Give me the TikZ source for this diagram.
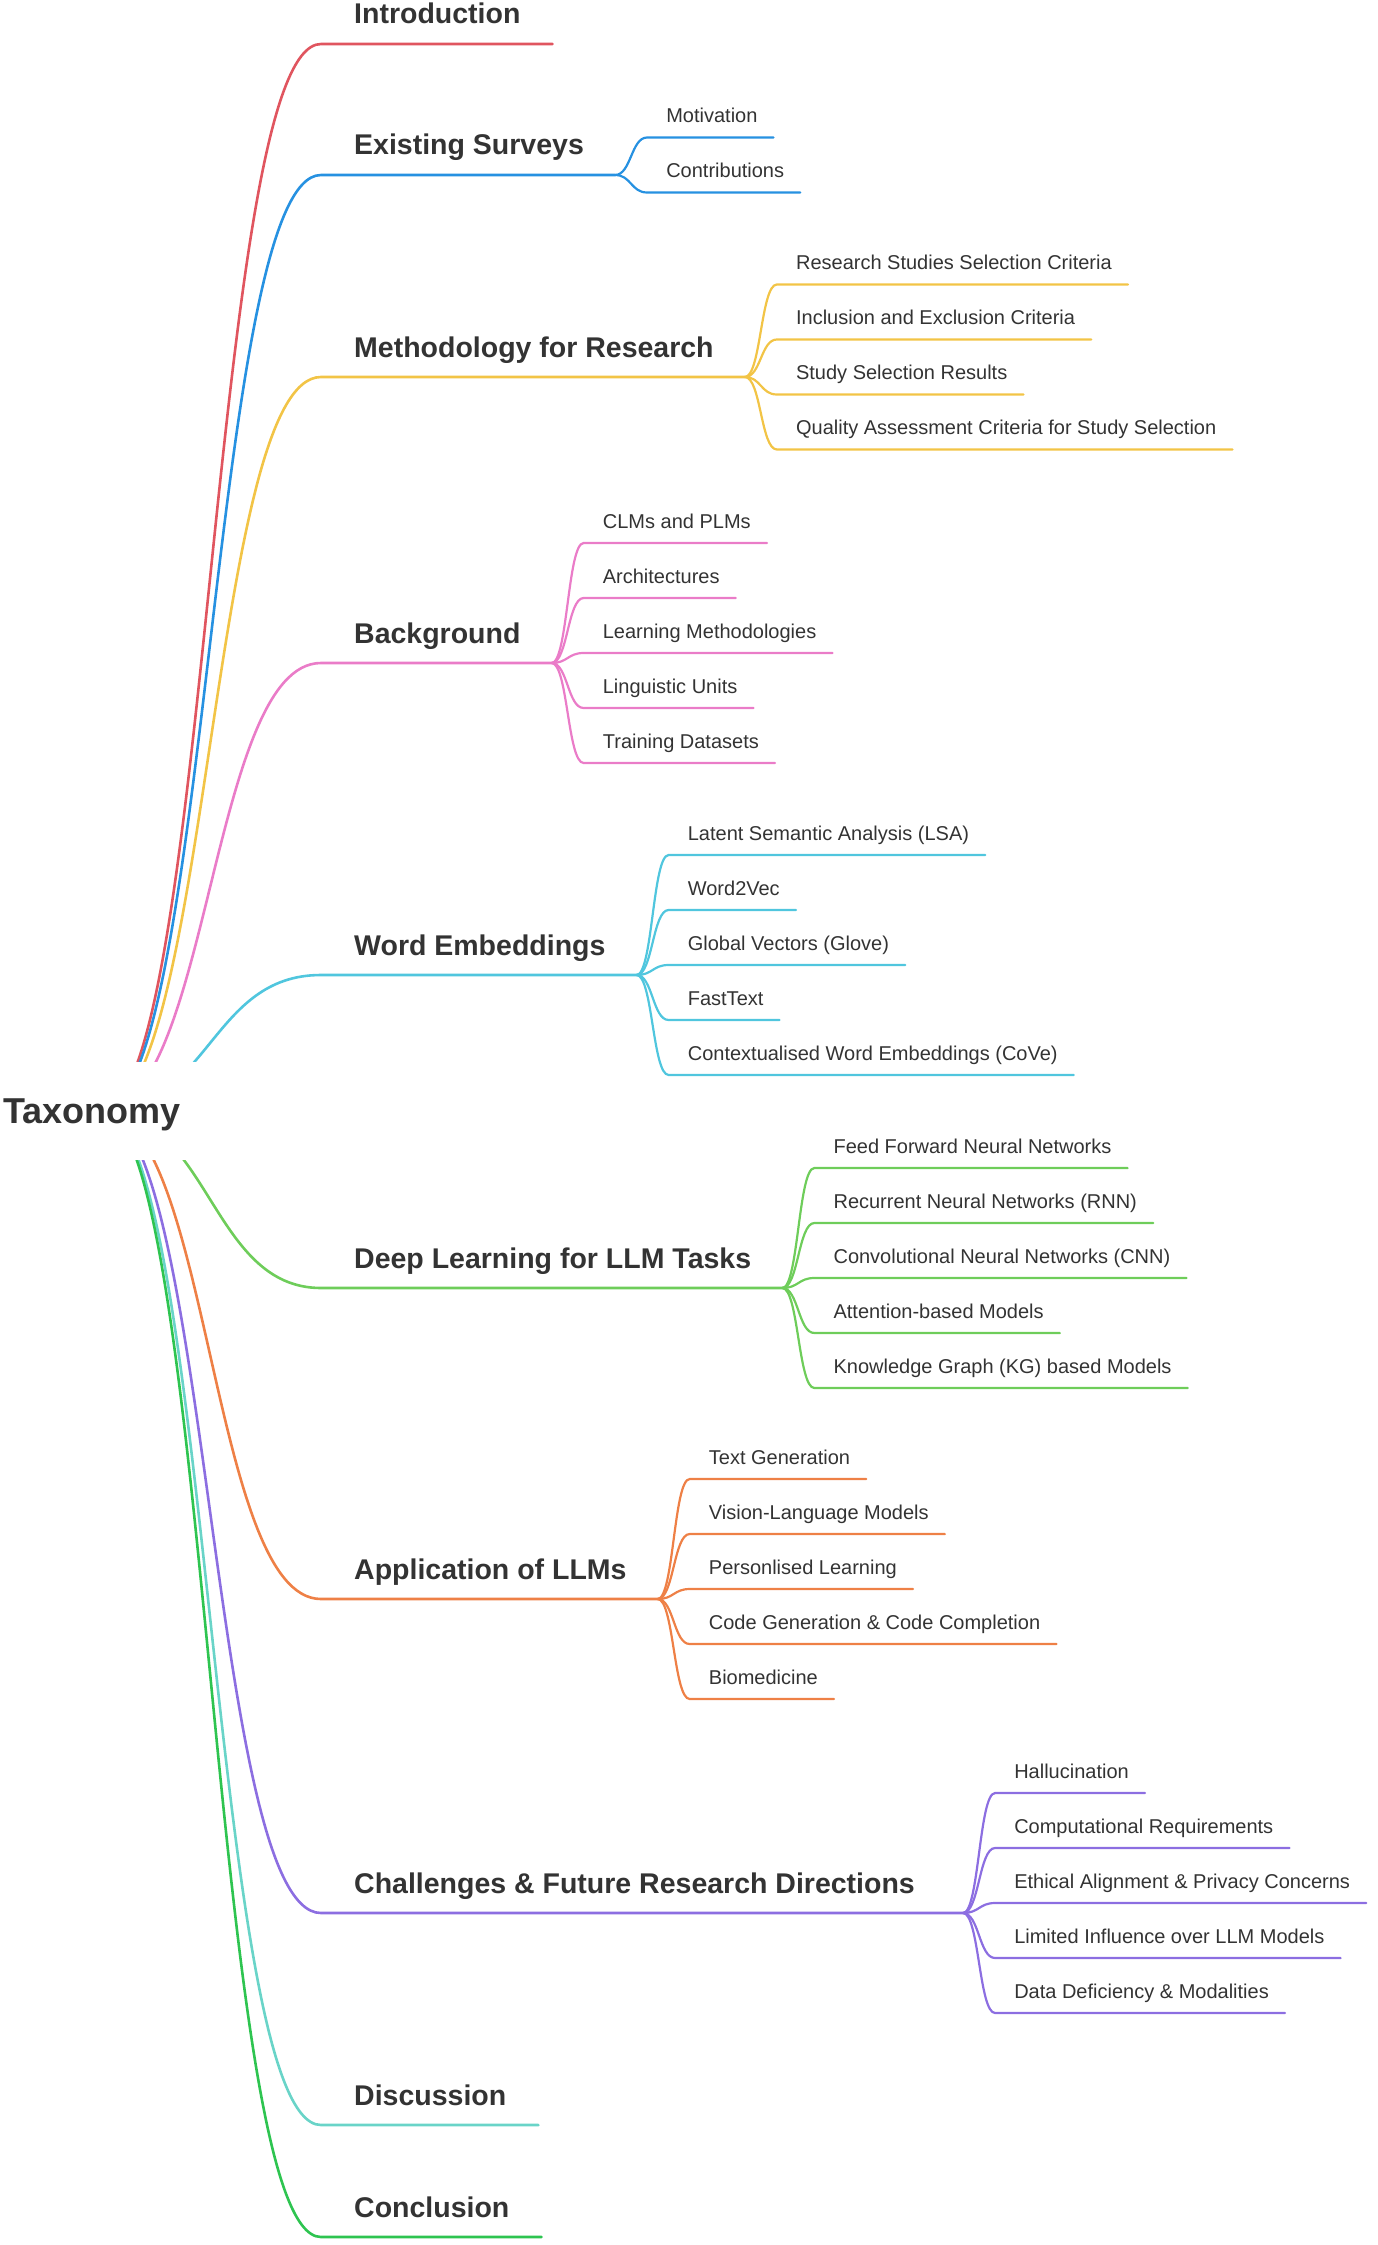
\documentclass[tikz,border=0pt]{standalone}
\usepackage{fontspec}
\setmainfont{Liberation Sans}
\usetikzlibrary{calc}

\definecolor{ink}{HTML}{333333}
\definecolor{cIntro}{HTML}{E0555F}
\definecolor{cSurv}{HTML}{2691E1}
\definecolor{cMeth}{HTML}{F2C446}
\definecolor{cBack}{HTML}{EA7CC8}
\definecolor{cWord}{HTML}{50C6DE}
\definecolor{cDeep}{HTML}{6ECD5A}
\definecolor{cAppl}{HTML}{EE8046}
\definecolor{cChal}{HTML}{8C6EE1}
\definecolor{cDisc}{HTML}{69D4C8}
\definecolor{cConc}{HTML}{2EC450}

\begin{document}
\begin{tikzpicture}[
    x=1pt, y=-1pt,
    taxo/.style={anchor=west, fill=white, inner xsep=3pt, inner ysep=0pt, text width=192pt, align=left, minimum height=98pt, text depth=0pt, text=ink, font=\bfseries\fontsize{36}{40}\selectfont},
    topic/.style={anchor=base west, inner sep=0pt, text=ink, font=\bfseries\fontsize{28.5}{34}\selectfont},
    leaf/.style={anchor=base west, inner sep=0pt, text=ink, font=\fontsize{20}{24}\selectfont},
    link/.style={line width=2.6pt, line cap=round},
    twig/.style={line width=2.2pt, line cap=round}
]
    \useasboundingbox (0,0) rectangle (1378,2245);
    \coordinate (hub) at (100,1111);

    % Introduction
    \node[topic] (intro) at (354,24) {Introduction};
    \coordinate (intro-in) at (321,44);
    \coordinate (intro-out) at ($(intro.base east)+(32,20)$);
    \draw[link, cIntro] (hub) .. controls (210,1111) and (210,44) .. (intro-in) -- (intro-out);

    % Existing Surveys
    \node[topic] (surv) at (354,155) {Existing Surveys};
    \coordinate (surv-in) at (321,175);
    \coordinate (surv-out) at ($(surv.base east)+(31,20)$);
    \draw[link, cSurv] (hub) .. controls (210,1111) and (210,175) .. (surv-in) -- (surv-out);
    \foreach \lab [count=\i] in {Motivation, Contributions} {
        \node[leaf] (surv-\i) at ($(surv-out)+(51,{(\i-1.5)*55-25})$) {\lab};
        \coordinate (surv-\i-in) at ($(surv-out)+(32,{(\i-1.5)*55-10})$);
        \coordinate (surv-\i-end) at ($(surv-\i.base east)+(16,15)$);
        \draw[twig, cSurv] (surv-out) .. controls +(16,0) and +(-16,0) .. (surv-\i-in) -- (surv-\i-end);
    }

    % Methodology for Research
    \node[topic] (meth) at (354,357) {Methodology for Research};
    \coordinate (meth-in) at (321,377);
    \coordinate (meth-out) at ($(meth.base east)+(31,20)$);
    \draw[link, cMeth] (hub) .. controls (210,1111) and (210,377) .. (meth-in) -- (meth-out);
    \foreach \lab [count=\i] in {Research Studies Selection Criteria, Inclusion and Exclusion Criteria, Study Selection Results, Quality Assessment Criteria for Study Selection} {
        \node[leaf] (meth-\i) at ($(meth-out)+(51,{(\i-2.5)*55-25})$) {\lab};
        \coordinate (meth-\i-in) at ($(meth-out)+(32,{(\i-2.5)*55-10})$);
        \coordinate (meth-\i-end) at ($(meth-\i.base east)+(16,15)$);
        \draw[twig, cMeth] (meth-out) .. controls +(16,0) and +(-16,0) .. (meth-\i-in) -- (meth-\i-end);
    }

    % Background
    \node[topic] (back) at (354,643) {Background};
    \coordinate (back-in) at (321,663);
    \coordinate (back-out) at ($(back.base east)+(31,20)$);
    \draw[link, cBack] (hub) .. controls (210,1111) and (210,663) .. (back-in) -- (back-out);
    \foreach \lab [count=\i] in {CLMs and PLMs, Architectures, Learning Methodologies, Linguistic Units, Training Datasets} {
        \node[leaf] (back-\i) at ($(back-out)+(51,{(\i-3)*55-25})$) {\lab};
        \coordinate (back-\i-in) at ($(back-out)+(32,{(\i-3)*55-10})$);
        \coordinate (back-\i-end) at ($(back-\i.base east)+(16,15)$);
        \draw[twig, cBack] (back-out) .. controls +(16,0) and +(-16,0) .. (back-\i-in) -- (back-\i-end);
    }

    % Word Embeddings
    \node[topic] (word) at (354,955) {Word Embeddings};
    \coordinate (word-in) at (321,975);
    \coordinate (word-out) at ($(word.base east)+(31,20)$);
    \draw[link, cWord] (hub) .. controls (210,1111) and (210,975) .. (word-in) -- (word-out);
    \foreach \lab [count=\i] in {Latent Semantic Analysis (LSA), Word2Vec, Global Vectors (Glove), FastText, Contextualised Word Embeddings (CoVe)} {
        \node[leaf] (word-\i) at ($(word-out)+(51,{(\i-3)*55-25})$) {\lab};
        \coordinate (word-\i-in) at ($(word-out)+(32,{(\i-3)*55-10})$);
        \coordinate (word-\i-end) at ($(word-\i.base east)+(16,15)$);
        \draw[twig, cWord] (word-out) .. controls +(16,0) and +(-16,0) .. (word-\i-in) -- (word-\i-end);
    }

    % Deep Learning for LLM Tasks
    \node[topic] (deep) at (354,1268) {Deep Learning for LLM Tasks};
    \coordinate (deep-in) at (321,1288);
    \coordinate (deep-out) at ($(deep.base east)+(31,20)$);
    \draw[link, cDeep] (hub) .. controls (210,1111) and (210,1288) .. (deep-in) -- (deep-out);
    \foreach \lab [count=\i] in {Feed Forward Neural Networks, Recurrent Neural Networks (RNN), Convolutional Neural Networks (CNN), Attention-based Models, Knowledge Graph (KG) based Models} {
        \node[leaf] (deep-\i) at ($(deep-out)+(51,{(\i-3)*55-25})$) {\lab};
        \coordinate (deep-\i-in) at ($(deep-out)+(32,{(\i-3)*55-10})$);
        \coordinate (deep-\i-end) at ($(deep-\i.base east)+(16,15)$);
        \draw[twig, cDeep] (deep-out) .. controls +(16,0) and +(-16,0) .. (deep-\i-in) -- (deep-\i-end);
    }

    % Application of LLMs
    \node[topic] (appl) at (354,1579) {Application of LLMs};
    \coordinate (appl-in) at (321,1599);
    \coordinate (appl-out) at ($(appl.base east)+(31,20)$);
    \draw[link, cAppl] (hub) .. controls (210,1111) and (210,1599) .. (appl-in) -- (appl-out);
    \foreach \lab [count=\i] in {Text Generation, Vision-Language Models, Personlised Learning, Code Generation \& Code Completion, Biomedicine} {
        \node[leaf] (appl-\i) at ($(appl-out)+(51,{(\i-3)*55-25})$) {\lab};
        \coordinate (appl-\i-in) at ($(appl-out)+(32,{(\i-3)*55-10})$);
        \coordinate (appl-\i-end) at ($(appl-\i.base east)+(16,15)$);
        \draw[twig, cAppl] (appl-out) .. controls +(16,0) and +(-16,0) .. (appl-\i-in) -- (appl-\i-end);
    }

    % Challenges & Future Research Directions
    \node[topic] (chal) at (354,1893) {Challenges \& Future Research Directions};
    \coordinate (chal-in) at (321,1913);
    \coordinate (chal-out) at ($(chal.base east)+(48,20)$);
    \draw[link, cChal] (hub) .. controls (210,1111) and (210,1913) .. (chal-in) -- (chal-out);
    \foreach \lab [count=\i] in {Hallucination, Computational Requirements, Ethical Alignment \& Privacy Concerns, Limited Influence over LLM Models, Data Deficiency \& Modalities} {
        \node[leaf] (chal-\i) at ($(chal-out)+(51,{(\i-3)*55-25})$) {\lab};
        \coordinate (chal-\i-in) at ($(chal-out)+(32,{(\i-3)*55-10})$);
        \coordinate (chal-\i-end) at ($(chal-\i.base east)+(16,15)$);
        \draw[twig, cChal] (chal-out) .. controls +(16,0) and +(-16,0) .. (chal-\i-in) -- (chal-\i-end);
    }

    % Discussion
    \node[topic] (disc) at (354,2105) {Discussion};
    \coordinate (disc-in) at (321,2125);
    \coordinate (disc-out) at ($(disc.base east)+(32,20)$);
    \draw[link, cDisc] (hub) .. controls (210,1111) and (210,2125) .. (disc-in) -- (disc-out);

    % Conclusion
    \node[topic] (conc) at (354,2217) {Conclusion};
    \coordinate (conc-in) at (321,2237);
    \coordinate (conc-out) at ($(conc.base east)+(32,20)$);
    \draw[link, cConc] (hub) .. controls (210,1111) and (210,2237) .. (conc-in) -- (conc-out);

    % Root (covers the hub)
    \node[taxo] (root) at (0,1111) {Taxonomy};
\end{tikzpicture}
\end{document}
